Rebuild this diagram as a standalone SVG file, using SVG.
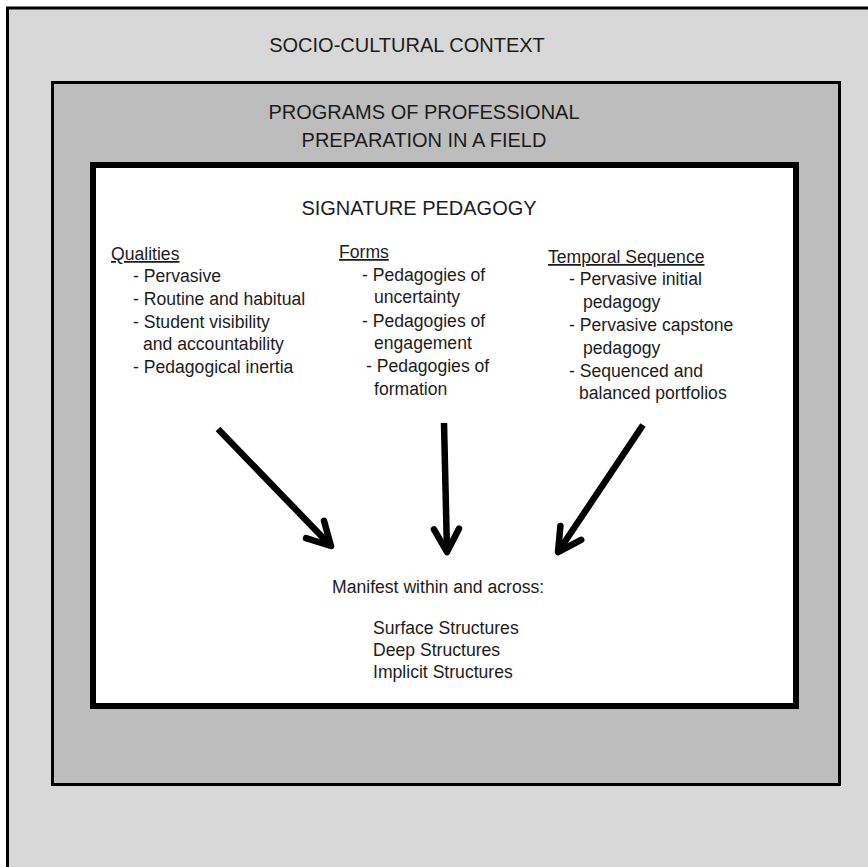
<svg xmlns="http://www.w3.org/2000/svg" width="868" height="867" viewBox="0 0 868 867">
  <style>
    .frame { stroke: #000; }
    .title { font-family: "Liberation Sans", Arial, sans-serif; font-size: 20px; fill: #1c1c1c; }
    .body { font-family: "Liberation Sans", Arial, sans-serif; font-size: 17.6px; fill: #1c1c1c; }
    .head { text-decoration: underline; }
    .arrow { fill: none; stroke: #000; stroke-width: 6.5; }
  </style>
  <defs>
    <marker id="chevron" markerUnits="userSpaceOnUse" markerWidth="40" markerHeight="40" viewBox="-30 -20 40 40" refX="0" refY="0" orient="auto">
      <path d="M -23 -12.5 L 0 0 L -23 12.5" fill="none" stroke="#000" stroke-width="6.5" stroke-linecap="round" stroke-linejoin="round"/>
    </marker>
  </defs>

  <rect x="0" y="0" width="868" height="867" fill="#ffffff"/>

  <!-- outer context frame (runs off the right and bottom edges) -->
  <g id="socio-cultural-context">
    <rect class="frame" x="7.5" y="8" width="900" height="900" fill="#d8d8d8" stroke-width="3"/>
    <text class="title" x="407" y="52" text-anchor="middle">SOCIO-CULTURAL CONTEXT</text>
  </g>

  <!-- programs of professional preparation -->
  <g id="programs">
    <rect class="frame" x="52.5" y="82.5" width="787" height="702" fill="#bdbdbd" stroke-width="3"/>
    <text class="title" x="424" y="119" text-anchor="middle">PROGRAMS OF PROFESSIONAL</text>
    <text class="title" x="424" y="147" text-anchor="middle">PREPARATION IN A FIELD</text>
  </g>

  <!-- signature pedagogy panel -->
  <g id="signature-pedagogy">
    <rect class="frame" x="93" y="165" width="703" height="541" fill="#ffffff" stroke-width="6"/>
    <text class="title" x="419" y="215" text-anchor="middle">SIGNATURE PEDAGOGY</text>
  </g>

  <g id="qualities" class="body">
    <text class="head" x="111" y="260">Qualities</text>
    <text x="133" y="282">- Pervasive</text>
    <text x="133" y="305">- Routine and habitual</text>
    <text x="133" y="328">- Student visibility</text>
    <text x="143" y="350">and accountability</text>
    <text x="133" y="373">- Pedagogical inertia</text>
  </g>

  <g id="forms" class="body">
    <text class="head" x="339" y="258">Forms</text>
    <text x="362" y="281">- Pedagogies of</text>
    <text x="374" y="303">uncertainty</text>
    <text x="362" y="327">- Pedagogies of</text>
    <text x="374" y="349">engagement</text>
    <text x="366" y="372">- Pedagogies of</text>
    <text x="374" y="395">formation</text>
  </g>

  <g id="temporal-sequence" class="body">
    <text class="head" x="548" y="263">Temporal Sequence</text>
    <text x="569" y="285">- Pervasive initial</text>
    <text x="583" y="308">pedagogy</text>
    <text x="569" y="331">- Pervasive capstone</text>
    <text x="583" y="354">pedagogy</text>
    <text x="569" y="377">- Sequenced and</text>
    <text x="579" y="399">balanced portfolios</text>
  </g>

  <g id="manifest" class="body">
    <text x="332" y="593">Manifest within and across:</text>
    <text x="373" y="634">Surface Structures</text>
    <text x="373" y="656">Deep Structures</text>
    <text x="373" y="678">Implicit Structures</text>
  </g>

  <g id="connectors">
    <path class="arrow" d="M 218 429 L 331 546" marker-end="url(#chevron)"/>
    <path class="arrow" d="M 444 423 L 447 552" marker-end="url(#chevron)"/>
    <path class="arrow" d="M 643 425 L 558 552" marker-end="url(#chevron)"/>
  </g>
</svg>
